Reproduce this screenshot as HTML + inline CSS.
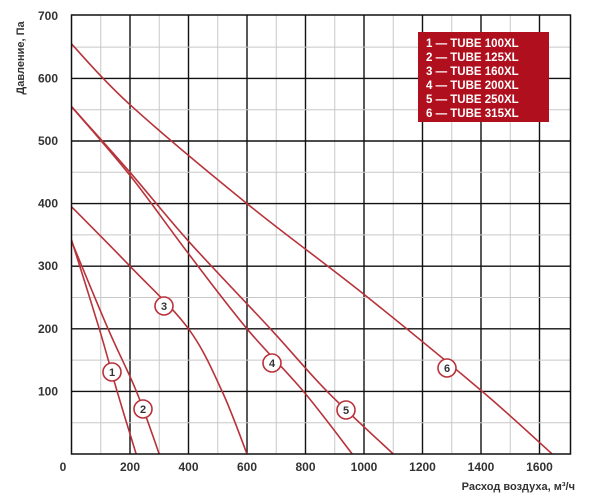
<!DOCTYPE html>
<html><head><meta charset="utf-8"><style>
html,body{margin:0;padding:0;background:#fff;}
svg{display:block;font-family:"Liberation Sans",sans-serif;}
.t{font-size:12px;font-weight:bold;fill:#333;}
</style></head><body>
<svg id="s" width="600" height="497" viewBox="0 0 600 497" xmlns="http://www.w3.org/2000/svg">
<g id="grid"></g>
<g id="curves" fill="none" stroke="#b8323a" stroke-width="1.6"></g>
<rect x="71.5" y="15" width="499" height="439" fill="none" stroke="#111" stroke-width="1.5"/>
<g id="labels"></g>
<text class="t" x="63" y="471" text-anchor="middle">0</text>
<text transform="translate(24,58) rotate(-90)" text-anchor="middle" style="font-size:11px;font-weight:bold;fill:#333">Давление, Па</text>
<text x="575" y="490" text-anchor="end" style="font-size:11px;font-weight:bold;fill:#333">Расход воздуха, м³/ч</text>
<rect x="418" y="32" width="131" height="90" fill="#b0101e"/>
<g fill="#fff" style="font-size:11.5px;font-weight:bold">
<text x="426" y="47">1 — TUBE 100XL</text>
<text x="426" y="61">2 — TUBE 125XL</text>
<text x="426" y="75">3 — TUBE 160XL</text>
<text x="426" y="89">4 — TUBE 200XL</text>
<text x="426" y="103">5 — TUBE 250XL</text>
<text x="426" y="117">6 — TUBE 315XL</text>
</g>
</svg>
<script>
var NS="http://www.w3.org/2000/svg";
function X(v){return 71.5+v*0.2925;}
function Y(v){return 454-v*0.626;}
function el(p,tag,a,txt){var e=document.createElementNS(NS,tag);for(var k in a)e.setAttribute(k,a[k]);if(txt)e.textContent=txt;p.appendChild(e);return e;}
var g=document.getElementById('grid');
for(var x=100;x<1700;x+=100){var maj=x%200==0;el(g,'line',{x1:X(x),x2:X(x),y1:15,y2:454,stroke:maj?'#111':'#c8c8c8','stroke-width':maj?1.4:1});}
for(var y=50;y<700;y+=50){var maj=y%100==0;el(g,'line',{x1:71.5,x2:570.5,y1:Y(y),y2:Y(y),stroke:maj?'#111':'#c8c8c8','stroke-width':maj?1.4:1});}
var L=document.getElementById('labels');
for(var y=100;y<=700;y+=100)el(L,'text',{'class':'t',x:58,y:Y(y)+4,'text-anchor':'end'},String(y));
for(var x=200;x<=1600;x+=200)el(L,'text',{'class':'t',x:X(x),y:471,'text-anchor':'middle'},String(x));
var C=[
[[0,342],[95,200],[156,100],[221,0]],
[[0,340],[125,200],[222,100],[300,0]],
[[0,395],[200,300],[400,200],[515,100],[600,0]],
[[0,555],[200,445],[400,320],[600,200],[793,100],[960,0]],
[[0,555],[200,450],[400,340],[680,200],[874,100],[1100,0]],
[[0,655],[200,558],[600,400],[1000,255],[1404,100],[1643,0]]
];
var cg=document.getElementById('curves');
C.forEach(function(c){
 var p=c.map(function(q){return [X(q[0]),Y(q[1])];});
 var d='M'+p[0][0]+','+p[0][1];
 for(var i=0;i<p.length-1;i++){
  var p0=p[i-1]||p[i],p1=p[i],p2=p[i+1],p3=p[i+2]||p2;
  var c1=[p1[0]+(p2[0]-p0[0])/6,p1[1]+(p2[1]-p0[1])/6];
  var c2=[p2[0]-(p3[0]-p1[0])/6,p2[1]-(p3[1]-p1[1])/6];
  d+=' C'+c1+' '+c2+' '+p2;
 }
 el(cg,'path',{d:d});
});
var lab=[[112,372,'1'],[143,409,'2'],[164,306,'3'],[272,363,'4'],[346,410,'5'],[447,368,'6']];
lab.forEach(function(l){
 el(L,'circle',{cx:l[0],cy:l[1],r:9,fill:'#fff',stroke:'#b8323a','stroke-width':1.6});
 el(L,'text',{x:l[0],y:l[1]+4,'text-anchor':'middle',style:'font-size:11px;font-weight:bold;fill:#333'},l[2]);
});
</script>
</body></html>
